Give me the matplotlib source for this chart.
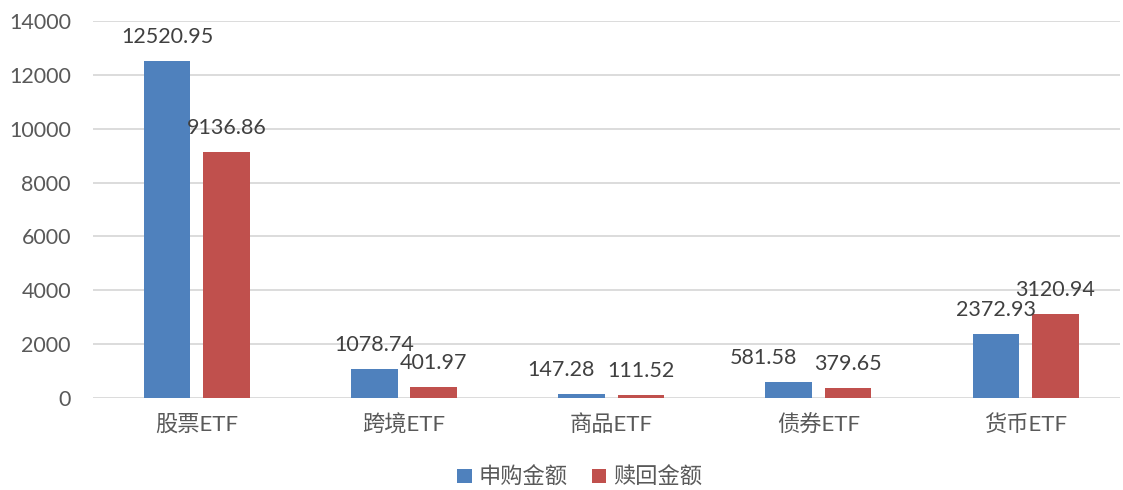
import numpy as np
import matplotlib.pyplot as plt

plt.rcParams['font.family'] = ['Lato', 'Noto Sans CJK SC', 'DejaVu Sans']

categories = ['股票ETF', '跨境ETF', '商品ETF', '债券ETF', '货币ETF']
subscribe = [12520.95, 1078.74, 147.28, 581.58, 2372.93]
redeem = [9136.86, 401.97, 111.52, 379.65, 3120.94]
series_names = ['申购金额', '赎回金额']

# small sideways nudges of the value labels (pixels), as in the original
nudge_sub = [0, 0, -21, -25, 0]
nudge_red = [0, 0, 0, 0, 0]

blue = '#4F81BD'
red = '#C0504D'
grey = '#595959'

fig = plt.figure(figsize=(11.23, 4.9), dpi=100)
ax = fig.add_axes([0.083, 0.188, 0.914, 0.769])

x = np.arange(len(categories))
w = 0.225
off = 0.143
b1 = ax.bar(x - off, subscribe, w, color=blue, label=series_names[0], zorder=3)
b2 = ax.bar(x + off, redeem, w, color=red, label=series_names[1], zorder=3)

for bars, vals, nud in [(b1, subscribe, nudge_sub), (b2, redeem, nudge_red)]:
    for r, v, n in zip(bars, vals, nud):
        ax.annotate(f'{v:.2f}', (r.get_x() + r.get_width() / 2, v),
                    xytext=(n, 18), textcoords='offset pixels',
                    ha='center', va='baseline', fontsize=15.5, color='#404040')

# the plot area is cut a little short on the right, as in the original
ax.set_xlim(-0.5, len(categories) - 0.546)
ax.set_ylim(0, 14000)
ax.set_yticks(range(0, 14001, 2000))
ax.set_xticks(x)
ax.set_xticklabels(categories, fontsize=16)
ax.tick_params(axis='both', length=0, labelcolor=grey)
ax.tick_params(axis='y', labelsize=15.5, pad=16)
ax.tick_params(axis='x', pad=12)
ax.grid(axis='y', color='#D9D9D9', linewidth=1.3, zorder=0)
for s in ax.spines.values():
    s.set_visible(False)

fig.legend(handles=[b1, b2], labels=series_names, loc='center',
           bbox_to_anchor=(0.516, 0.026), ncol=2, frameon=False,
           fontsize=16, labelcolor=grey, handlelength=0.65, handleheight=0.65,
           handletextpad=0.3, columnspacing=1.1)

fig.savefig('out.png', dpi=100)
